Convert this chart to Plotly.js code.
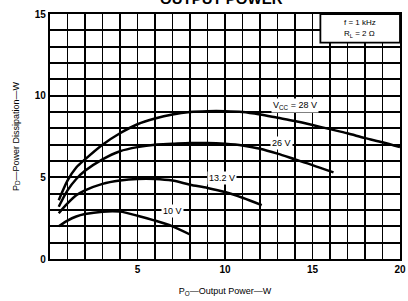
<!DOCTYPE html>
<html>
<head>
<meta charset="utf-8">
<script src="https://cdn.plot.ly/plotly-3.0.1.min.js"></script>
<style>html,body{margin:0;padding:0;background:#fff;}#chart{width:408px;height:301px;}</style>
</head>
<body>
<div id="chart"></div>
<script>
// Data
const x28 = [0.5,1,1.5,2,3,4,5,6,7,8,9,10,11,12,13,14,15,16,17,18,19,20];
const y28 = [3.6,4.8,5.6,6.1,7.0,7.7,8.25,8.6,8.85,9.0,9.05,9.05,9.0,8.85,8.65,8.45,8.2,7.95,7.7,7.4,7.15,6.85];
const x26 = [0.5,1,1.5,2,3,4,5,6,7,8,9,10,11,12,13,14,15,16.2];
const y26 = [3.2,4.2,4.9,5.4,6.1,6.6,6.85,7.0,7.05,7.1,7.1,7.05,6.95,6.75,6.45,6.1,5.75,5.3];
const x132 = [0.5,1,1.5,2,3,4,5,6,7,8,9,10,11,12.1];
const y132 = [2.8,3.4,3.9,4.2,4.6,4.8,4.9,4.9,4.8,4.55,4.35,4.1,3.75,3.3];
const x10 = [0.5,1,1.5,2,3,4,5,6,7,8];
const y10 = [2.0,2.35,2.6,2.75,2.9,2.9,2.65,2.35,2.0,1.5];
const xTickVals = [0,5,10,15,20];
const xTickText = ['','5','10','15','20'];
const yTickVals = [0,5,10,15];
const yTickText = ['0','5','10','15'];

const lineStyle = {color:'#000', width:2.5, shape:'spline', smoothing:0.8};
const traces = [
  {x:x28, y:y28, mode:'lines', line:lineStyle, hoverinfo:'skip'},
  {x:x26, y:y26, mode:'lines', line:lineStyle, hoverinfo:'skip'},
  {x:x132, y:y132, mode:'lines', line:lineStyle, hoverinfo:'skip'},
  {x:x10, y:y10, mode:'lines', line:lineStyle, hoverinfo:'skip'}
];

const f = {family:'Liberation Sans, Arial, sans-serif', color:'#000'};
const labelFont = Object.assign({}, f, {size:9});
const layout = {
  width:408, height:301,
  margin:{l:50, r:8, t:14, b:42},
  paper_bgcolor:'#fff', plot_bgcolor:'#fff',
  showlegend:false,
  xaxis:{
    range:[0,20], tickvals:xTickVals, ticktext:xTickText,
    showgrid:true, gridcolor:'#000', gridwidth:1.9,
    minor:{dtick:1, showgrid:true, gridcolor:'#000', gridwidth:1.9},
    showline:true, linecolor:'#000', linewidth:2.2, mirror:true,
    ticks:'', zeroline:false,
    tickfont:Object.assign({}, f, {size:10, weight:'bold'}),
    title:{text:'P<sub>O</sub>—Output Power—W', font:Object.assign({}, f, {size:9}), standoff:14}
  },
  yaxis:{
    range:[0,15], tickvals:yTickVals, ticktext:yTickText,
    showgrid:true, gridcolor:'#000', gridwidth:1.9,
    minor:{dtick:1, showgrid:true, gridcolor:'#000', gridwidth:1.9},
    showline:true, linecolor:'#000', linewidth:2.2, mirror:true,
    ticks:'', zeroline:false,
    tickfont:Object.assign({}, f, {size:10, weight:'bold'}),
    title:{text:'P<sub>D</sub>—Power Dissipation—W', font:Object.assign({}, f, {size:9}), standoff:14}
  },
  shapes:[
    {type:'rect', xref:'x', yref:'y', x0:15.45, x1:20, y0:13.25, y1:15,
     fillcolor:'#fff', line:{color:'#000', width:1.8}, layer:'above'}
  ],
  annotations:[
    {xref:'paper', yref:'paper', x:0.49, y:1.065, text:'<b>OUTPUT POWER</b>', showarrow:false,
     font:Object.assign({}, f, {size:15}), yanchor:'middle'},
    {xref:'x', yref:'y', x:17.7, y:14.45, text:'f = 1 kHz', showarrow:false, font:Object.assign({}, f, {size:8})},
    {xref:'x', yref:'y', x:17.7, y:13.75, text:'R<sub>L</sub> = 2 Ω', showarrow:false, font:Object.assign({}, f, {size:8})},
    {xref:'x', yref:'y', x:14.0, y:9.4, text:'V<sub>CC</sub> = 28 V', showarrow:false, bgcolor:'#fff', font:labelFont},
    {xref:'x', yref:'y', x:13.2, y:7.1, text:'26 V', showarrow:false, bgcolor:'#fff', font:labelFont},
    {xref:'x', yref:'y', x:9.8, y:4.95, text:'13.2 V', showarrow:false, bgcolor:'#fff', font:labelFont},
    {xref:'x', yref:'y', x:7.0, y:2.95, text:'10 V', showarrow:false, bgcolor:'#fff', font:labelFont}
  ]
};

Plotly.newPlot('chart', traces, layout, {staticPlot:true, displayModeBar:false});
</script>
</body>
</html>
